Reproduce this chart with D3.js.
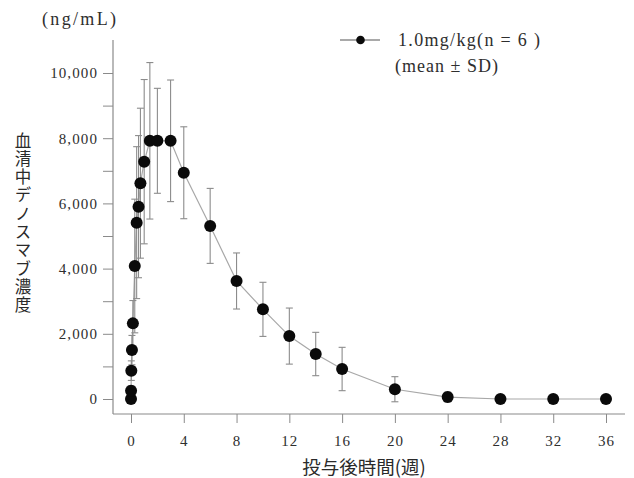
<!DOCTYPE html>
<html>
<head>
<meta charset="utf-8">
<script src="https://cdn.jsdelivr.net/npm/d3@7"></script>
<style>
  html, body { margin: 0; padding: 0; background: #fff; }
  svg { display: block; }
  .num { font-family: "Liberation Serif", "DejaVu Serif", serif; fill: #2e2e2e; }
  .jp { font-family: "Noto Sans CJK JP", sans-serif; fill: #2a2a2a; }
</style>
</head>
<body>
<svg id="chart" width="634" height="478"></svg>
<script>
// Serum denosumab concentration after a single 1.0 mg/kg dose (n = 6), mean ± SD
const weeks = [0, 0.006, 0.024, 0.071, 0.143, 0.286, 0.429, 0.571, 0.714, 1, 1.429, 2, 3, 4,
               6, 8, 10, 12, 14, 16, 20, 24, 28, 32, 36];
const meanConc = [0, 250, 870, 1500, 2320, 4080, 5410, 5900, 6620, 7280, 7920, 7920, 7920, 6940,
                  5310, 3620, 2750, 1930, 1380, 920, 300, 60, 0, 0, 0];
const sdConc = [0, 150, 300, 450, 700, 2050, 2330, 2180, 2300, 2520, 2400, 1610, 1865, 1410,
                1150, 860, 830, 860, 665, 665, 385, 150, 0, 0, 0];

const xTicks = [0, 4, 8, 12, 16, 20, 24, 28, 32, 36];
const yTicks = [0, 1000, 2000, 3000, 4000, 5000, 6000, 7000, 8000, 9000, 10000];
const yLabelTicks = [0, 2000, 4000, 6000, 8000, 10000];

const yTitle = "血清中デノスマブ濃度";
const xTitle = "投与後時間(週)";
const unitLabel = "(ng/mL)";
const legendLine1 = "1.0mg/kg(n =  6 )";
const legendLine2 = "(mean ± SD)";

const svg = d3.select("#chart");

const x = d3.scaleLinear().domain([0, 36]).range([131, 606]);
const y = d3.scaleLinear().domain([0, 10000]).range([399, 73]);

const axisColor = "#8a8a8a";
const leftX = 113, bottomY = 414;

// axis lines
svg.append("line")
  .attr("x1", leftX).attr("x2", leftX).attr("y1", 40).attr("y2", bottomY)
  .attr("stroke", axisColor).attr("stroke-width", 1.2);
svg.append("line")
  .attr("x1", leftX).attr("x2", 625).attr("y1", bottomY).attr("y2", bottomY)
  .attr("stroke", axisColor).attr("stroke-width", 1.2);

// y axis ticks and labels
const yAxis = d3.axisLeft(y).tickValues(yTicks).tickSize(10).tickPadding(5)
  .tickFormat(d => yLabelTicks.includes(d) ? d3.format(",")(d) : "");
const gy = svg.append("g").attr("transform", `translate(${leftX},0)`).call(yAxis);
gy.select(".domain").remove();
gy.selectAll(".tick line").attr("stroke", axisColor);
gy.selectAll(".tick text").attr("class", "num")
  .style("font-size", "15px").style("letter-spacing", "1.1px")
  .attr("fill", "#2e2e2e");

// x axis ticks and labels
const xAxis = d3.axisBottom(x).tickValues(xTicks).tickSize(9).tickPadding(12)
  .tickFormat(d3.format("d"));
const gx = svg.append("g").attr("transform", `translate(0,${bottomY})`).call(xAxis);
gx.select(".domain").remove();
gx.selectAll(".tick line").attr("stroke", axisColor);
gx.selectAll(".tick text").attr("class", "num")
  .style("font-size", "15px").style("letter-spacing", "1px")
  .attr("fill", "#2e2e2e");

const points = weeks.map((w, i) => ({ w, m: meanConc[i], sd: sdConc[i] }));

// connecting line
svg.append("path")
  .datum(points)
  .attr("fill", "none")
  .attr("stroke", "#a8a8a8")
  .attr("stroke-width", 1.2)
  .attr("d", d3.line().x(d => x(d.w)).y(d => y(d.m)));

// error bars
const eb = svg.append("g").attr("stroke", "#8c8c8c").attr("stroke-width", 1.1);
points.filter(d => d.sd > 0).forEach(d => {
  const cx = x(d.w);
  const top = y(d.m + d.sd), bot = y(d.m - d.sd);
  eb.append("line").attr("x1", cx).attr("x2", cx).attr("y1", top).attr("y2", bot);
  eb.append("line").attr("x1", cx - 3.5).attr("x2", cx + 3.5).attr("y1", top).attr("y2", top);
  eb.append("line").attr("x1", cx - 3.5).attr("x2", cx + 3.5).attr("y1", bot).attr("y2", bot);
});

// markers
svg.append("g").selectAll("circle").data(points).join("circle")
  .attr("cx", d => x(d.w)).attr("cy", d => y(d.m)).attr("r", 6)
  .attr("fill", "#0a0a0a");

// unit label
svg.append("text").attr("class", "num")
  .attr("x", 42).attr("y", 25)
  .attr("textLength", 74).attr("lengthAdjust", "spacing")
  .style("font-size", "18px").text(unitLabel);

// vertical y title
svg.append("text").attr("class", "jp")
  .attr("transform", "translate(23,132)")
  .style("writing-mode", "vertical-rl")
  .style("text-orientation", "upright")
  .style("font-size", "16.5px")
  .style("letter-spacing", "1.8px")
  .text(yTitle);

// x title
svg.append("text").attr("class", "jp")
  .attr("x", 364).attr("y", 474).attr("text-anchor", "middle")
  .style("font-size", "18.5px").text(xTitle);

// legend
svg.append("line").attr("x1", 340).attr("x2", 380).attr("y1", 40).attr("y2", 40)
  .attr("stroke", "#555").attr("stroke-width", 1.2);
svg.append("circle").attr("cx", 360.5).attr("cy", 40).attr("r", 4.3).attr("fill", "#0a0a0a");
svg.append("text").attr("class", "num").attr("x", 398).attr("y", 46)
  .attr("textLength", 142).attr("lengthAdjust", "spacing")
  .style("font-size", "18px").text(legendLine1);
svg.append("text").attr("class", "num").attr("x", 395).attr("y", 72)
  .attr("textLength", 103).attr("lengthAdjust", "spacing")
  .style("font-size", "18px").text(legendLine2);
</script>
</body>
</html>
